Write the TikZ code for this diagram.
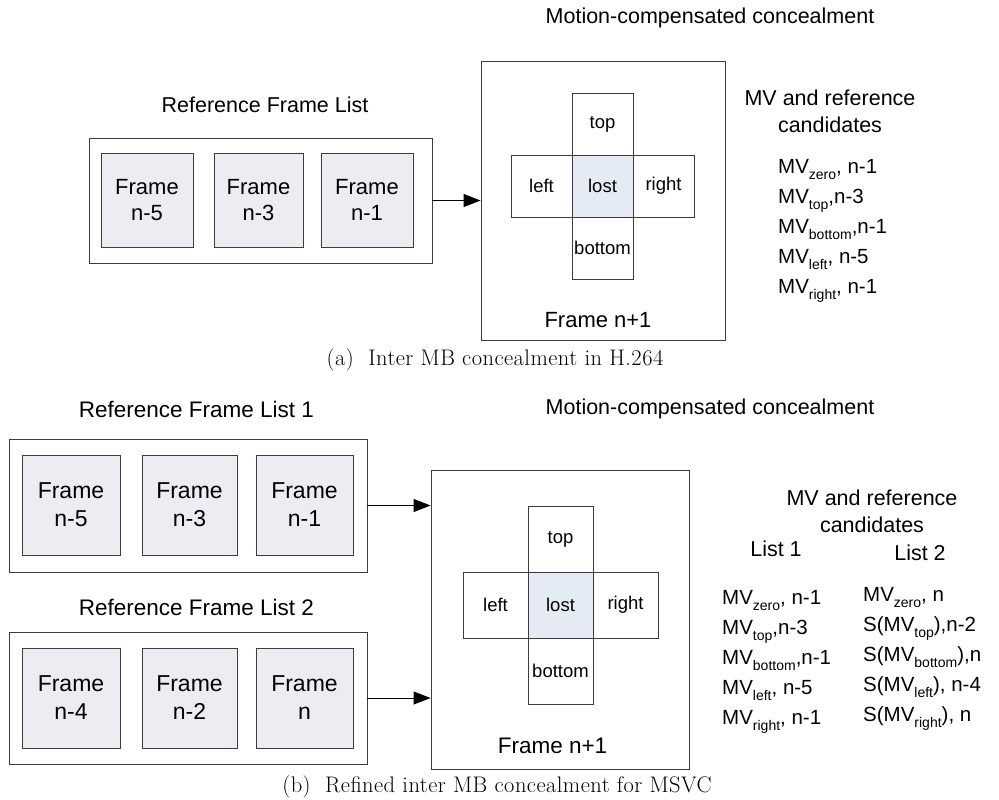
\documentclass[tikz,border=0pt]{standalone}
\usepackage{fontspec}
\setmainfont{Liberation Sans}
\newfontfamily\capfont[LetterSpace=2]{Latin Modern Roman}
\usetikzlibrary{arrows.meta}
\definecolor{framefill}{RGB}{238,236,242}
\definecolor{lostfill}{RGB}{229,235,245}
\definecolor{linecol}{RGB}{60,60,60}
\newcommand\subx[1]{\raisebox{-0.3em}{\fontsize{14}{14}\selectfont #1}}
\tikzset{
  box/.style={draw=linecol, line width=0.9pt, inner sep=0pt},
  framebox/.style={box, fill=framefill, align=center, font=\fontsize{22}{26}\selectfont},
  cellbox/.style={box, font=\fontsize{18.5}{20}\selectfont},
  lbl/.style={inner sep=0pt, font=\fontsize{21.5}{25}\selectfont},
  mvl/.style={inner sep=0pt, anchor=base west, font=\fontsize{20.5}{24}\selectfont},
  captext/.style={inner sep=0pt, anchor=base, font=\capfont\fontsize{22.5}{26}\selectfont},
  arr/.style={-{Triangle[length=17pt,width=13pt]}, line width=0.9pt, draw=black}
}
\begin{document}
\begin{tikzpicture}[x=1pt,y=-1pt]
\useasboundingbox (0,0) rectangle (999,800);
% ---------- (a) ----------
\node[lbl] (mca) at (710,18) {Motion-compensated concealment};
\node[lbl] (rfla) at (265,105) {Reference Frame List};
\node[box, minimum width=343pt, minimum height=125pt] (outa) at (260.5,200.5) {};
\node[framebox, minimum width=92pt, minimum height=94pt] (fa1) at (147,200) {Frame\\n-5};
\node[framebox, minimum width=89pt, minimum height=94pt] (fa2) at (258.5,200) {Frame\\n-3};
\node[framebox, minimum width=92pt, minimum height=94pt] (fa3) at (367,200) {Frame\\n-1};
\node[box, minimum width=244pt, minimum height=279pt] (biga) at (603,200.5) {};
\node[cellbox, minimum width=61pt, minimum height=62pt, fill=lostfill] (losta) at (602.5,186) {lost};
\node[cellbox, minimum width=61pt, minimum height=62pt] (topa) at (602.5,124) {top};
\node[cellbox, minimum width=61pt, minimum height=62pt] (bota) at (602.5,248) {bottom};
\node[cellbox, minimum width=61pt, minimum height=62pt] (lefta) at (541.5,186) {left};
\node[cellbox, minimum width=61pt, minimum height=62pt] (righta) at (663.5,186) {right};
\node[lbl, font=\fontsize{22}{26}\selectfont] (fna) at (598,320) {Frame n+1};
\draw[arr] (outa.east) -- (biga.west |- outa.east);
\node[lbl] (mvha) at (830,98) {MV and reference};
\node[lbl] (cana) at (830,125) {candidates};
\node[mvl] (a1) at (778,173) {MV\subx{zero}, n-1};
\node[mvl] (a2) at (778,203) {MV\subx{top},n-3};
\node[mvl] (a3) at (778,233) {MV\subx{bottom},n-1};
\node[mvl] (a4) at (778,263) {MV\subx{left}, n-5};
\node[mvl] (a5) at (778,293) {MV\subx{right}, n-1};
\node[captext] (capa) at (495,365) {(a)\ \ Inter MB concealment in H.264};
% ---------- (b) ----------
\node[lbl] (mcb) at (710,409) {Motion-compensated concealment};
\node[lbl, font=\fontsize{22.5}{26}\selectfont] (rflb1) at (196.5,409) {Reference Frame List 1};
\node[lbl, font=\fontsize{22.5}{26}\selectfont] (rflb2) at (196.5,607) {Reference Frame List 2};
\node[box, minimum width=358pt, minimum height=133pt] (outb1) at (188,505.5) {};
\node[box, minimum width=358pt, minimum height=132pt] (outb2) at (188,698) {};
\node[framebox, minimum width=98pt, minimum height=100pt, font=\fontsize{23}{28}\selectfont] (fb1) at (71,505) {Frame\\n-5};
\node[framebox, minimum width=95pt, minimum height=100pt, font=\fontsize{23}{28}\selectfont] (fb2) at (189.5,505) {Frame\\n-3};
\node[framebox, minimum width=97pt, minimum height=100pt, font=\fontsize{23}{28}\selectfont] (fb3) at (304.5,505) {Frame\\n-1};
\node[framebox, minimum width=98pt, minimum height=100pt, font=\fontsize{23}{28}\selectfont] (fb4) at (71,698) {Frame\\n-4};
\node[framebox, minimum width=95pt, minimum height=100pt, font=\fontsize{23}{28}\selectfont] (fb5) at (189.5,698) {Frame\\n-2};
\node[framebox, minimum width=97pt, minimum height=100pt, font=\fontsize{23}{28}\selectfont] (fb6) at (304.5,698) {Frame\\n};
\node[box, minimum width=258pt, minimum height=299pt] (bigb) at (560,620) {};
\node[cellbox, minimum width=65pt, minimum height=66pt, fill=lostfill] (lostb) at (560.5,605) {lost};
\node[cellbox, minimum width=65pt, minimum height=66pt] (topb) at (560.5,539) {top};
\node[cellbox, minimum width=65pt, minimum height=66pt] (botb) at (560.5,671) {bottom};
\node[cellbox, minimum width=65pt, minimum height=66pt] (leftb) at (495.5,605) {left};
\node[cellbox, minimum width=65pt, minimum height=66pt] (rightb) at (625.5,605) {right};
\node[lbl, font=\fontsize{22.5}{26}\selectfont] (fnb) at (552.5,746) {Frame n+1};
\draw[arr] (outb1.east) -- (bigb.west |- outb1.east);
\draw[arr] (outb2.east) -- (bigb.west |- outb2.east);
\node[lbl] (mvhb) at (872,498) {MV and reference};
\node[lbl] (canb) at (872,525) {candidates};
\node[lbl] (l1) at (776,549) {List 1};
\node[lbl] (l2) at (920,553) {List 2};
\node[mvl] (b1) at (722,604) {MV\subx{zero}, n-1};
\node[mvl] (b2) at (722,634) {MV\subx{top},n-3};
\node[mvl] (b3) at (722,664) {MV\subx{bottom},n-1};
\node[mvl] (b4) at (722,694) {MV\subx{left}, n-5};
\node[mvl] (b5) at (722,724) {MV\subx{right}, n-1};
\node[mvl] (c1) at (863,601) {MV\subx{zero}, n};
\node[mvl] (c2) at (863,631) {S(MV\subx{top}),n-2};
\node[mvl] (c3) at (863,661) {S(MV\subx{bottom}),n};
\node[mvl] (c4) at (863,691) {S(MV\subx{left}), n-4};
\node[mvl] (c5) at (863,721) {S(MV\subx{right}), n};
\node[captext] (capb) at (497,792) {(b)\ \ Refined inter MB concealment for MSVC};
\end{tikzpicture}
\end{document}
